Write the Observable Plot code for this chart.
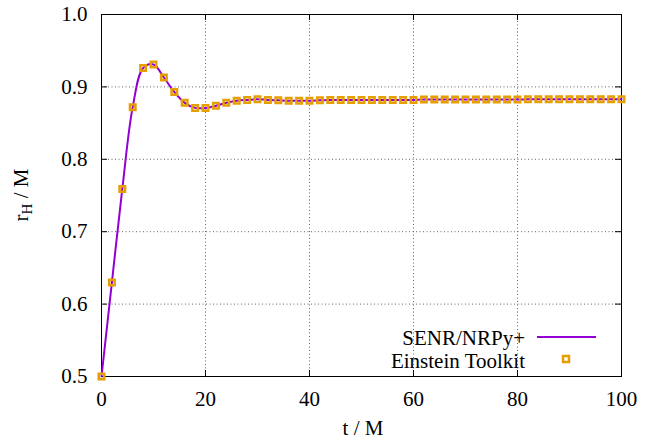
<!DOCTYPE html>
<html><head><meta charset="utf-8">
<script src="https://cdn.jsdelivr.net/npm/d3@7"></script>
<script src="https://cdn.jsdelivr.net/npm/@observablehq/plot@0.6"></script>
<style>
body{margin:0;background:#fff}
svg{display:block}
</style>
</head><body><div id="chart"></div>
<script>
// time samples (t / M)
const times = [0,2,4,6,8,10,12,14,16,18,20,22,24,26,28,30,32,34,36,38,40,42,44,46,48,50,
  52,54,56,58,60,62,64,66,68,70,72,74,76,78,80,82,84,86,88,90,92,94,96,98,100];
// SENR/NRPy+ horizon radius (line)
const rSENR = [0.500,0.630,0.759,0.872,0.926,0.931,0.913,0.893,0.878,0.871,0.871,0.874,0.878,0.881,0.882,0.883,0.882,0.8815,0.881,0.881,
  0.881,0.8815,0.882,0.882,0.882,0.882,0.882,0.882,0.882,0.882,0.882,0.8825,0.8825,0.8825,0.8825,0.8825,0.8825,0.8825,0.8825,0.8825,
  0.8825,0.883,0.883,0.883,0.883,0.883,0.883,0.883,0.883,0.883,0.883];
// Einstein Toolkit horizon radius (points)
const rET = [0.500,0.630,0.759,0.872,0.926,0.931,0.913,0.893,0.878,0.871,0.871,0.874,0.878,0.881,0.882,0.883,0.882,0.8815,0.881,0.881,
  0.881,0.8815,0.882,0.882,0.882,0.882,0.882,0.882,0.882,0.882,0.882,0.8825,0.8825,0.8825,0.8825,0.8825,0.8825,0.8825,0.8825,0.8825,
  0.8825,0.883,0.883,0.883,0.883,0.883,0.883,0.883,0.883,0.883,0.883];
const xTicks = [0,20,40,60,80,100];
const yTicks = [0.5,0.6,0.7,0.8,0.9,1.0];
const seriesNames = ["SENR/NRPy+","Einstein Toolkit"];
const xLabel = "t / M";

const lineData = times.map((t,i)=>({t, r:rSENR[i]}));
const dotData = times.map((t,i)=>({t, r:rET[i]}));

const W=652,H=441,ML=101,MR=31,MT=14,MB=65;
const pw=W-ML-MR, ph=H-MT-MB, tk=6;
const font = "Liberation Serif";
const fs = 21;
const purple="#9400D3", orange="#E69F00";

const chart = Plot.plot({
  width:W, height:H, marginLeft:ML, marginRight:MR, marginTop:MT, marginBottom:MB,
  style:{fontSize:fs+"px", color:"#000", background:"#fff"},
  x:{domain:[0,100], ticks:xTicks, tickSize:0, tickPadding:15, label:null, tickFormat:d3.format("d")},
  y:{domain:[0.5,1.0], ticks:yTicks, tickSize:0, tickPadding:14, label:null, tickFormat:d3.format(".1f")},
  marks:[
    Plot.ruleX(xTicks.slice(1,-1), {stroke:"#666", strokeWidth:1, strokeDasharray:"1,2.5"}),
    Plot.ruleY(yTicks.slice(1,-1), {stroke:"#666", strokeWidth:1, strokeDasharray:"1,2.5"}),
    Plot.tickX(xTicks, {x:d=>d, insetTop:ph-tk, stroke:"#000"}),
    Plot.tickX(xTicks, {x:d=>d, insetBottom:ph-tk, stroke:"#000"}),
    Plot.tickY(yTicks, {y:d=>d, insetLeft:pw-tk, stroke:"#000"}),
    Plot.tickY(yTicks, {y:d=>d, insetRight:pw-tk, stroke:"#000"}),
    Plot.frame({stroke:"#000", strokeWidth:1}),
    Plot.line(lineData, {x:"t", y:"r", stroke:purple, strokeWidth:2, curve:"catmull-rom"}),
    Plot.dot(dotData, {x:"t", y:"r", symbol:"square", r:3.1, stroke:orange, strokeWidth:2.5, fill:"none"})
  ]
});
document.getElementById("chart").appendChild(chart);

const svg = d3.select(chart);
// axis labels
svg.append("text").attr("x", ML+pw/2+2).attr("y", 435).attr("text-anchor","middle")
  .attr("font-size",fs).text(xLabel);
const yl = svg.append("text").attr("transform",`translate(28,${MT+ph/2}) rotate(-90)`)
  .attr("text-anchor","middle").attr("font-size",fs);
yl.append("tspan").text("r");
yl.append("tspan").attr("font-size",15).attr("dy",4).text("H");
yl.append("tspan").attr("dy",-4).text(" / M");

// legend
const lg = svg.append("g").attr("font-size",21);
lg.append("text").attr("x",525).attr("y",345).attr("text-anchor","end").text(seriesNames[0]);
lg.append("line").attr("x1",537).attr("x2",596).attr("y1",337).attr("y2",337).attr("stroke",purple).attr("stroke-width",2);
lg.append("text").attr("x",525).attr("y",368).attr("text-anchor","end").text(seriesNames[1]);
lg.append("rect").attr("x",563).attr("y",356).attr("width",6).attr("height",6).attr("fill","none")
  .attr("stroke",orange).attr("stroke-width",2.5);

// serif font on every text element
svg.style("font-family", font);
svg.selectAll("text").attr("font-family", font).style("font-family", font);
</script>
</body></html>
